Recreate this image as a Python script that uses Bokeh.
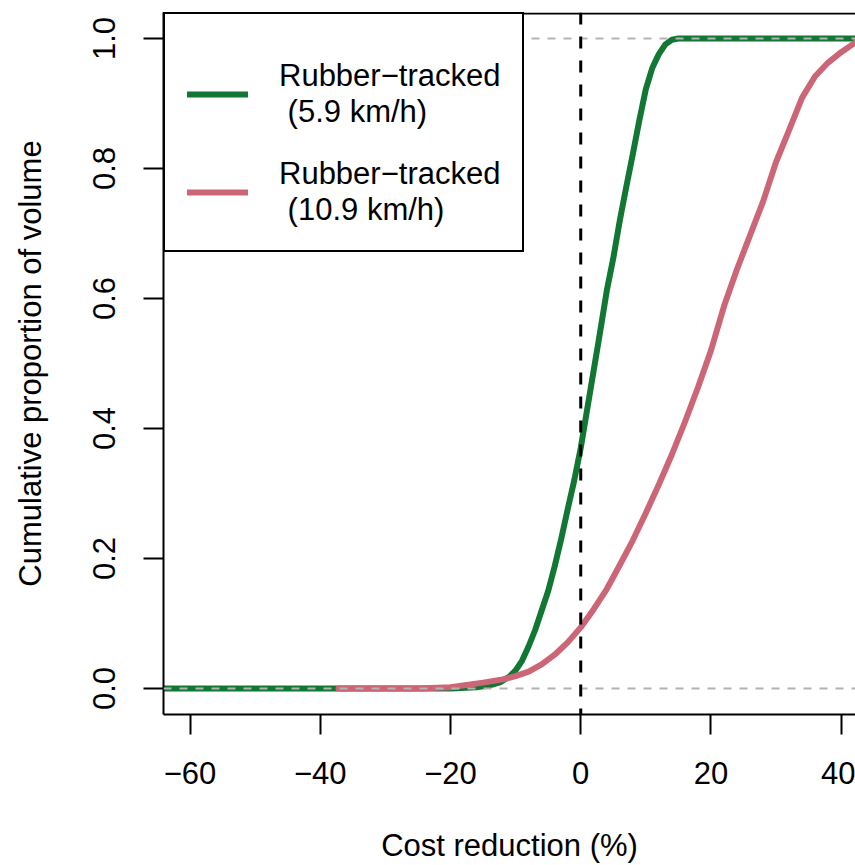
from bokeh.plotting import figure
from bokeh.models import Range1d, FixedTicker, Span, Legend, LegendItem, PrintfTickFormatter
from bokeh.embed import file_html
from bokeh.resources import INLINE

green_x = [-64.1, -20.0, -16.0, -14.0, -12.3, -11.0, -10.0, -9.0, -8.0, -7.0, -6.0, -5.0,
           -4.0, -3.0, -2.0, -1.0, 0.0, 1.0, 2.0, 3.0, 4.0, 5.0, 6.0, 7.0, 8.0, 9.0,
           10.0, 11.0, 12.0, 13.0, 14.0, 15.0, 42.2]
green_y = [0.0, 0.0, 0.002, 0.005, 0.010, 0.018, 0.028, 0.043, 0.065, 0.090, 0.120, 0.150,
           0.188, 0.230, 0.276, 0.320, 0.370, 0.430, 0.490, 0.550, 0.612, 0.662, 0.720, 0.772,
           0.822, 0.874, 0.922, 0.955, 0.976, 0.991, 0.998, 1.0, 1.0]

pink_x = [-37.2, -25.0, -20.0, -15.0, -12.0, -10.0, -8.0, -6.0, -4.0, -2.0, 0.0, 2.0, 4.0,
          6.0, 8.0, 10.0, 12.0, 14.0, 16.0, 18.0, 20.0, 22.0, 24.0, 26.0, 28.0, 30.0,
          32.0, 34.0, 36.0, 38.0, 40.0, 42.2]
pink_y = [0.0, 0.0, 0.002, 0.009, 0.014, 0.019, 0.026, 0.037, 0.052, 0.071, 0.094, 0.122,
          0.153, 0.190, 0.228, 0.270, 0.314, 0.360, 0.410, 0.463, 0.520, 0.588, 0.645, 0.697,
          0.749, 0.810, 0.859, 0.909, 0.942, 0.963, 0.979, 0.994]

series_labels = ["Rubber\u2212tracked\n (5.9 km/h)", "Rubber\u2212tracked\n (10.9 km/h)"]
series_colors = ["#117733", "#CC6677"]

x_ticks = [-60, -40, -20, 0, 20, 40]
y_ticks = [0.0, 0.2, 0.4, 0.6, 0.8, 1.0]
ref_levels = [0.0, 1.0]
zero_line = 0.0

x_label = "Cost reduction (%)"
y_label = "Cumulative proportion of volume"

FONT = "Liberation Sans"
FS = "31px"

p = figure(width=855, height=865, output_backend="svg", toolbar_location=None,
           x_range=Range1d(-64.08, 42.2), y_range=Range1d(-0.04, 1.04),
           min_border_left=163, min_border_right=0, min_border_top=12, min_border_bottom=151)
p.outline_line_color = None
p.xgrid.visible = False
p.ygrid.visible = False
p.background_fill_color = "white"
p.border_fill_color = "white"

r_green = p.line(green_x, green_y, line_color=series_colors[0], line_width=6,
                 line_cap="round", line_join="round")
r_pink = p.line(pink_x, pink_y, line_color=series_colors[1], line_width=6,
                line_cap="round", line_join="round")

for lvl in ref_levels:
    p.add_layout(Span(location=lvl, dimension="width", line_color="#B3B3B3",
                      line_width=2, line_dash="8 8"))
p.add_layout(Span(location=zero_line, dimension="height", line_color="black",
                  line_width=3, line_dash="12 12"))
# top edge of the plot box (drawn one pixel inside the frame so it is not clipped)
p.add_layout(Span(location=p.y_range.end - 0.0016, dimension="width",
                  line_color="black", line_width=2))

for ax in (p.xaxis[0], p.yaxis[0]):
    ax.axis_line_width = 2
    ax.axis_line_color = "black"
    ax.major_tick_line_width = 2
    ax.major_tick_line_color = "black"
    ax.major_tick_out = 20
    ax.major_tick_in = 0
    ax.minor_tick_line_color = None
    ax.major_label_text_font = FONT
    ax.major_label_text_font_size = FS
    ax.major_label_text_color = "black"
    ax.axis_label_text_font = FONT
    ax.axis_label_text_font_size = FS
    ax.axis_label_text_font_style = "normal"
    ax.axis_label_text_color = "black"

p.xaxis[0].ticker = FixedTicker(ticks=x_ticks)
p.xaxis[0].major_label_overrides = {t: str(t).replace("-", "\u2212") for t in x_ticks}
p.xaxis[0].major_label_standoff = 27
p.xaxis[0].axis_label = x_label
p.xaxis[0].axis_label_standoff = 41

p.yaxis[0].ticker = FixedTicker(ticks=y_ticks)
p.yaxis[0].formatter = PrintfTickFormatter(format="%.1f")
p.yaxis[0].major_label_orientation = "vertical"
p.yaxis[0].major_label_standoff = 29
p.yaxis[0].axis_label = y_label
p.yaxis[0].axis_label_standoff = 42

legend = Legend(items=[LegendItem(label=series_labels[0], renderers=[r_green]),
                       LegendItem(label=series_labels[1], renderers=[r_pink])],
                location="top_left", margin=0, padding=22, spacing=26,
                glyph_width=61, glyph_height=20, label_standoff=31,
                title=" ", title_text_font_size="1px", title_standoff=21,
                border_line_color="black", border_line_width=2, border_line_alpha=1.0,
                background_fill_color="white", background_fill_alpha=1.0,
                label_text_font=FONT, label_text_font_size=FS, label_text_color="black")
p.add_layout(legend)

open("out.html", "w").write(file_html(p, INLINE))
